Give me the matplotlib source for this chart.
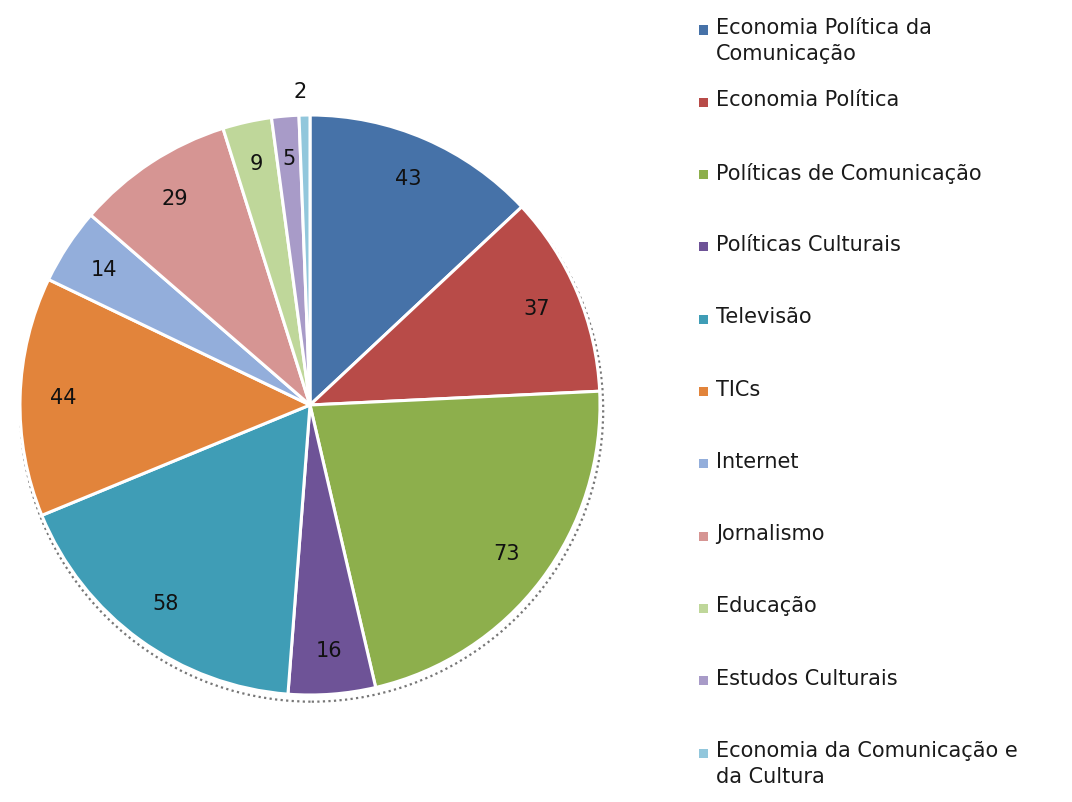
import matplotlib.pyplot as plt
from matplotlib.patches import Circle, Rectangle

categorias = ['Economia Política da\nComunicação', 'Economia Política',
              'Políticas de Comunicação', 'Políticas Culturais', 'Televisão',
              'TICs', 'Internet', 'Jornalismo', 'Educação',
              'Estudos Culturais', 'Economia da Comunicação e\nda Cultura']
valores = [43, 37, 73, 16, 58, 44, 14, 29, 9, 5, 2]
cores = ['#4672A8', '#B84B48', '#8DAF4C', '#6E5397', '#3F9DB6', '#E2843B',
         '#93AEDB', '#D69593', '#BFD79A', '#A89BC8', '#92C7DC']

W, H = 1072, 802
fig = plt.figure(figsize=(W / 100, H / 100), dpi=100)

# eixo da pizza: centro (310, 405) px, raio ~290 px
raio_px = 290
cx, cy = 310, 405
lim = 1.05
lado = 2 * lim * raio_px
ax = fig.add_axes([(cx - lado / 2) / W, (H - cy - lado / 2) / H, lado / W, lado / H])

total = sum(valores)
sombra = Circle((0.006, -0.018), 1.005, facecolor='none', edgecolor='#777777',
                linestyle=(0, (1, 1.5)), linewidth=1.6, zorder=0)
ax.add_patch(sombra)

wedges, textos, autotextos = ax.pie(
    valores, colors=cores, startangle=90, counterclock=False,
    autopct=lambda p: f'{p * total / 100:.0f}', pctdistance=0.85,
    wedgeprops=dict(edgecolor='white', linewidth=2.2),
    textprops=dict(fontsize=15, color='#111111'))

# rótulo da menor fatia fica fora
autotextos[-1].set_position((-0.035, 1.08))

ax.set_xlim(-lim, lim)
ax.set_ylim(-lim, lim)
ax.set_aspect('equal')
ax.axis('off')

# legenda
y0 = 30
passo = 72.3
for i, (nome, cor) in enumerate(zip(categorias, cores)):
    y = y0 + i * passo
    fig.patches.append(Rectangle((699 / W, (H - y - 4.5) / H), 9 / W, 9 / H,
                                 transform=fig.transFigure, facecolor=cor,
                                 edgecolor='none'))
    fig.text(716 / W, (H - y + 12) / H, nome, fontsize=15, color='#1a1a1a',
             va='top', ha='left', linespacing=1.4)

fig.savefig('out.png', dpi=100)
